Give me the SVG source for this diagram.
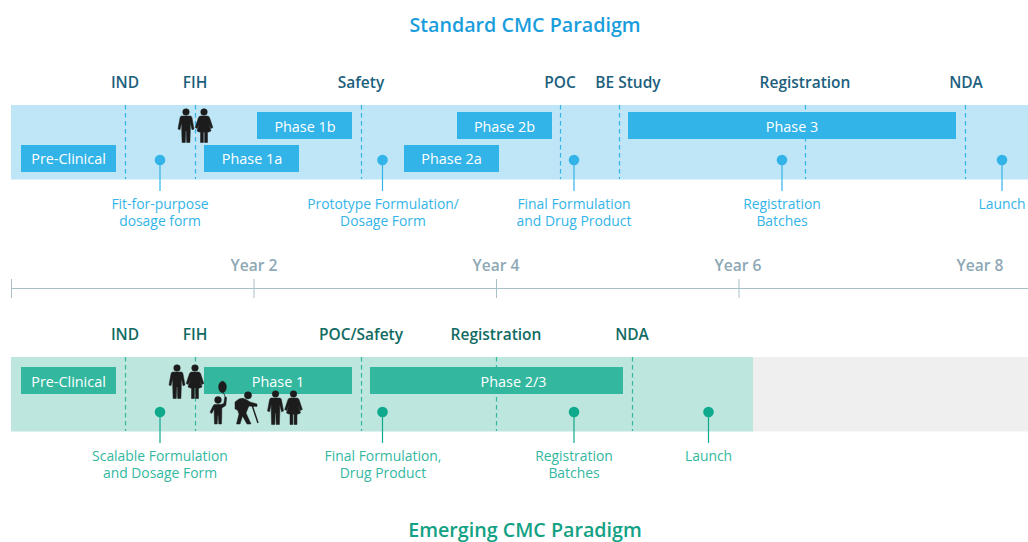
<svg xmlns="http://www.w3.org/2000/svg" xmlns:xlink="http://www.w3.org/1999/xlink" width="1028" height="542" viewBox="0 0 1028 542">
<style>
text{font-family:"Open Sans","Noto Sans","Liberation Sans",sans-serif;text-anchor:middle}
.title{font-size:19.700px;font-weight:600}
.ms{font-size:15.500px;font-weight:600;fill:#1d5f7d}
.msg{font-size:15.500px;font-weight:600;fill:#116b63}
.yr{font-size:15.600px;font-weight:600;fill:#8ea8b5}
.bar{font-size:14.400px;font-weight:500;fill:#fff}
.lb{font-size:13.900px;font-weight:500;fill:#33b4e8}
.lg{font-size:13.900px;font-weight:500;fill:#33b89f}
.db{stroke:#33b4e8;stroke-width:1.200;stroke-dasharray:4.500 3.500;fill:none}
.dg{stroke:#33b89f;stroke-width:1.200;stroke-dasharray:4.500 3.500;fill:none}
.sb{stroke:#33b4e8;stroke-width:1.200}
.sg{stroke:#0fa98d;stroke-width:1.200}
.b{fill:#33b4e8}.g{fill:#33b89f}
.tick{stroke:#a9bfc7;stroke-width:1;fill:none}
.p{stroke:#1c1c1c;stroke-width:.5}
</style>
<defs>
<g id="man" fill="#1c1c1c" class="p"><circle cx="0" cy="3" r="3.300"/><path d="M-4.300 7H4.300Q5.500 7 5.900 8.500L8 20 6 20.800 4.300 13.500V21.500L3.900 33.500H.7L.3 22H-.3L-.7 33.500H-3.900L-4.300 21.500V13.500L-6 20.800-8 20-5.900 8.500Q-5.500 7-4.300 7Z"/></g>
<g id="woman" fill="#1c1c1c" class="p"><circle cx="0" cy="3" r="3.300"/><path d="M-3.500 7H3.500Q4.800 7 5.500 8.500L8.800 18.500 6.800 19.500 4.500 14 7 22Q4.300 23.300 3.500 23.300V33.500H.6V23.300H-.6V33.500H-3.500V23.300Q-4.300 23.300-7 22L-4.500 14-6.800 19.500-8.800 18.500-5.500 8.500Q-4.800 7-3.500 7Z"/></g>
<g id="child" fill="#1c1c1c" class="p"><circle cx="0" cy="3" r="3.400"/><path d="M-3.800 7.500H2.800L5.800 6.500 6.800 0 8.600 .4 7.800 8.500 3.800 11V17L3.500 27H.8L.3 18.500H-.3L-.8 27H-3.500L-3.800 17V12L-6.300 16.500-8 15.300-5 9Z"/><ellipse cx="4.500" cy="-10" rx="3.900" ry="5.800"/><path d="M5.500 -4.300L7.500 .5" stroke-width=".8" fill="none"/></g>
<g id="elder" fill="#1c1c1c" class="p"><circle cx="8" cy="3.300" r="3.600"/><path d="M-1 7Q3 5 7 8L10 10 17 12 17 14.500 9 14 8 16 6 21 11 32H7L2.500 24 0 32H-3.500L-1 22-2.500 18-5 17-5 10Z"/><path d="M12 13L18 31" stroke-width="1.400" fill="none"/></g>
</defs>

<text class="title" x="525" y="32" fill="#1a9ddc">Standard CMC Paradigm</text>
<text class="title" x="525" y="537" fill="#12a184">Emerging CMC Paradigm</text>

<g id="band-standard"><rect x="11" y="105" width="1017" height="74.500" fill="#bee6f6"/></g>
<g id="band-emerging"><rect x="11" y="357" width="742" height="74.500" fill="#bde6df"/><rect x="753" y="357" width="275" height="74.500" fill="#efefef"/></g>

<g id="connectors">
<path class="db" d="M125.500 105V179M195.500 105V179M361.500 105V179M560.500 105V179M619.500 105V179M805.500 105V179M965.500 105V179"/>
<path class="dg" d="M125.500 357V431M195.500 357V431M361.500 357V431M496.500 357V431M632.500 357V431"/>
<path class="sb" d="M160 160V191M382.500 160V191M574 160V191M782 160V191M1002 160V191"/>
<path class="sg" d="M160 412V443M382.500 412V443M574 412V443M708.500 412V443"/>
<path class="tick" d="M11 288.500H1028M11.500 279V298M254 279V298M496.500 279V298M739 279V298"/>
</g>

<g id="milestones-standard">
<text class="ms" x="125" y="88">IND</text><text class="ms" x="195" y="88">FIH</text><text class="ms" x="361" y="88">Safety</text><text class="ms" x="560" y="88">POC</text><text class="ms" x="628" y="88">BE Study</text><text class="ms" x="805" y="88">Registration</text><text class="ms" x="966" y="88">NDA</text>
</g>
<g id="bars-standard">
<g id="s-preclinical"><rect class="b" x="21" y="145" width="95" height="27"/><text class="bar" x="68.500" y="164">Pre-Clinical</text></g>
<g id="s-phase1a"><rect class="b" x="204" y="145" width="95" height="27"/><text class="bar" x="252" y="164">Phase 1a</text></g>
<g id="s-phase1b"><rect class="b" x="257" y="112" width="95" height="27"/><text class="bar" x="305" y="132">Phase 1b</text></g>
<g id="s-phase2a"><rect class="b" x="404" y="145" width="95" height="27"/><text class="bar" x="451.500" y="164">Phase 2a</text></g>
<g id="s-phase2b"><rect class="b" x="457" y="112" width="95" height="27"/><text class="bar" x="504.500" y="132">Phase 2b</text></g>
<g id="s-phase3"><rect class="b" x="628" y="112" width="328" height="27"/><text class="bar" x="792" y="132">Phase 3</text></g>
</g>
<g id="people-standard"><use xlink:href="#man" href="#man" x="186" y="109"/><use xlink:href="#woman" href="#woman" x="204" y="109"/></g>
<g id="points-standard">
<g id="s-p1"><circle class="b" cx="160" cy="160" r="5.300"/><text class="lb" x="160" y="209">Fit-for-purpose</text><text class="lb" x="160" y="226">dosage form</text></g>
<g id="s-p2"><circle class="b" cx="382.500" cy="160" r="5.300"/><text class="lb" x="383" y="209">Prototype Formulation/</text><text class="lb" x="383" y="226">Dosage Form</text></g>
<g id="s-p3"><circle class="b" cx="574" cy="160" r="5.300"/><text class="lb" x="574" y="209">Final Formulation</text><text class="lb" x="574" y="226">and Drug Product</text></g>
<g id="s-p4"><circle class="b" cx="782" cy="160" r="5.300"/><text class="lb" x="782" y="209">Registration</text><text class="lb" x="782" y="226">Batches</text></g>
<g id="s-p5"><circle class="b" cx="1002" cy="160" r="5.300"/><text class="lb" x="1002" y="209">Launch</text></g>
</g>

<g id="timeline">
<text class="yr" x="254" y="271">Year 2</text><text class="yr" x="496" y="271">Year 4</text><text class="yr" x="738" y="271">Year 6</text><text class="yr" x="980" y="271">Year 8</text>
</g>

<g id="milestones-emerging">
<text class="msg" x="125" y="340">IND</text><text class="msg" x="195" y="340">FIH</text><text class="msg" x="361" y="340">POC/Safety</text><text class="msg" x="496" y="340">Registration</text><text class="msg" x="632" y="340">NDA</text>
</g>
<g id="bars-emerging">
<g id="e-preclinical"><rect class="g" x="21" y="367" width="95" height="27"/><text class="bar" x="68.500" y="387">Pre-Clinical</text></g>
<g id="e-phase1"><rect class="g" x="204" y="367" width="148" height="27"/><text class="bar" x="278" y="387">Phase 1</text></g>
<g id="e-phase23"><rect class="g" x="370" y="367" width="253" height="27"/><text class="bar" x="513.500" y="387">Phase 2/3</text></g>
</g>
<g id="people-emerging">
<use xlink:href="#man" href="#man" x="177" y="365"/><use xlink:href="#woman" href="#woman" x="195" y="365"/>
<use xlink:href="#child" href="#child" x="218" y="397"/>
<use xlink:href="#elder" href="#elder" x="240" y="392"/>
<use xlink:href="#man" href="#man" x="275.500" y="391"/><use xlink:href="#woman" href="#woman" x="293.500" y="391"/>
</g>
<g id="points-emerging">
<g id="e-p1"><circle cx="160" cy="412" r="5.300" fill="#0fa98d"/><text class="lg" x="160" y="461">Scalable Formulation</text><text class="lg" x="160" y="478">and Dosage Form</text></g>
<g id="e-p2"><circle cx="382.500" cy="412" r="5.300" fill="#0fa98d"/><text class="lg" x="383" y="461">Final Formulation,</text><text class="lg" x="383" y="478">Drug Product</text></g>
<g id="e-p3"><circle cx="574" cy="412" r="5.300" fill="#0fa98d"/><text class="lg" x="574" y="461">Registration</text><text class="lg" x="574" y="478">Batches</text></g>
<g id="e-p4"><circle cx="708.500" cy="412" r="5.300" fill="#0fa98d"/><text class="lg" x="708.500" y="461">Launch</text></g>
</g>
</svg>
